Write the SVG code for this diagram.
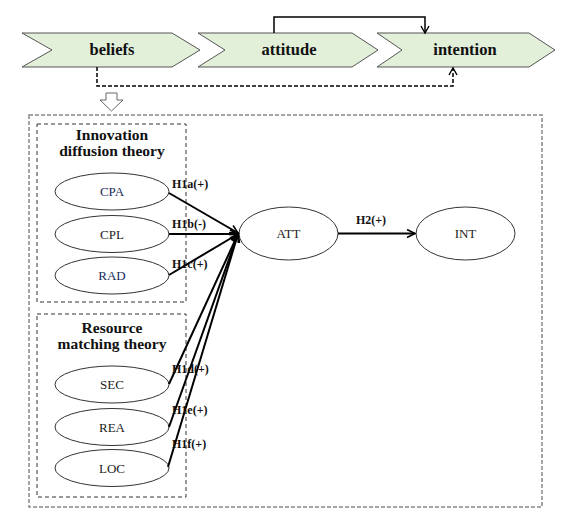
<svg xmlns="http://www.w3.org/2000/svg" width="576" height="525" viewBox="0 0 576 525">
<style>
.chev{fill:#e2efd9;stroke:#555;stroke-width:1}
.ctext{font-family:"Liberation Serif",serif;font-weight:bold;font-size:16.5px;fill:#111;text-anchor:middle}
.title{font-family:"Liberation Serif",serif;font-weight:bold;font-size:15.5px;fill:#111;text-anchor:middle}
.node{fill:#fff;stroke:#333;stroke-width:1}
.ntext{font-family:"Liberation Serif",serif;font-size:13px;fill:#222;text-anchor:middle}
.lab{font-family:"Liberation Serif",serif;font-weight:bold;font-size:12px;fill:#111}
.edge{fill:none;stroke:#000;stroke-width:2;marker-end:url(#arr)}
.box{fill:none;stroke:#333;stroke-width:1;stroke-dasharray:4 3}
</style>
<defs>
<marker id="arr" markerUnits="userSpaceOnUse" markerWidth="12" markerHeight="12" refX="9" refY="5" orient="auto">
<path d="M1,1 L9,5 L1,9" fill="none" stroke="#000" stroke-width="1.6"/>
</marker>
<marker id="arr2" markerUnits="userSpaceOnUse" markerWidth="12" markerHeight="12" refX="9" refY="5" orient="auto">
<path d="M2,1 L9,5 L2,9" fill="none" stroke="#000" stroke-width="1.4"/>
</marker>
</defs>
<rect width="576" height="525" fill="#fff"/>
<g id="beliefs">
<polygon class="chev" points="22,33 172,33 200,50 172,67 22,67 52,50"/>
<text class="ctext" x="112" y="55">beliefs</text>
</g>
<g id="attitude">
<polygon class="chev" points="198,33 352,33 378,50 352,67 198,67 225,50"/>
<text class="ctext" x="289" y="55">attitude</text>
</g>
<g id="intention">
<polygon class="chev" points="377,33 529,33 555,50 529,67 377,67 402,50"/>
<text class="ctext" x="465" y="55">intention</text>
</g>
<g id="hollow-arrow">
<polygon points="106,93 117,93 117,100 123,100 111.5,111 100,100 106,100" fill="#fff" stroke="#666" stroke-width="1"/>
</g>
<rect id="outer" x="29" y="115" width="513" height="392" fill="none" stroke="#888" stroke-width="1.5" stroke-dasharray="4 2"/>
<g id="idt">
<rect class="box" x="37" y="124" width="149" height="178"/>
<text class="title" x="112" y="140">Innovation</text>
<text class="title" x="112" y="156">diffusion theory</text>
</g>
<g id="rmt">
<rect class="box" x="37" y="314" width="149" height="183"/>
<text class="title" x="112" y="333">Resource</text>
<text class="title" x="112" y="349">matching theory</text>
</g>
<g id="CPA"><ellipse class="node" cx="112" cy="191.5" rx="57" ry="18.5"/><text class="ntext" x="112" y="196" style="fill:#1c2a5a">CPA</text></g>
<g id="CPL"><ellipse class="node" cx="112" cy="234" rx="57" ry="18.5"/><text class="ntext" x="112" y="239">CPL</text></g>
<g id="RAD"><ellipse class="node" cx="112" cy="275.5" rx="57" ry="18.5"/><text class="ntext" x="112" y="280" style="fill:#1c2a5a">RAD</text></g>
<g id="SEC"><ellipse class="node" cx="112" cy="384.5" rx="57" ry="18.5"/><text class="ntext" x="112" y="389">SEC</text></g>
<g id="REA"><ellipse class="node" cx="112" cy="427" rx="57" ry="18.5"/><text class="ntext" x="112" y="432">REA</text></g>
<g id="LOC"><ellipse class="node" cx="112" cy="468" rx="57" ry="18.5"/><text class="ntext" x="112" y="473">LOC</text></g>
<g id="ATT"><ellipse class="node" cx="288.5" cy="233.5" rx="49.5" ry="26.5"/><text class="ntext" x="288.5" y="238">ATT</text></g>
<g id="INT"><ellipse class="node" cx="465.5" cy="233.5" rx="49.5" ry="26.5"/><text class="ntext" x="465.5" y="238">INT</text></g>
<g id="connectors">
<polyline points="274,33 274,17 425,17 425,33" fill="none" stroke="#000" stroke-width="1.5" marker-end="url(#arr2)"/>
<polyline points="97,67 97,86 453,86 453,68" fill="none" stroke="#000" stroke-width="1.5" stroke-dasharray="4 2" marker-end="url(#arr2)"/>
<line class="edge" x1="169" y1="193" x2="238" y2="233"/>
<line class="edge" x1="169" y1="234" x2="238" y2="234"/>
<line class="edge" x1="169" y1="275" x2="238" y2="234"/>
<line class="edge" x1="169" y1="384" x2="238" y2="234"/>
<line class="edge" x1="169" y1="427" x2="238" y2="234"/>
<line class="edge" x1="168" y1="467" x2="238" y2="234"/>
<line class="edge" x1="338" y1="233.5" x2="415" y2="233.5"/>
<text class="lab" x="172" y="188">H1a(+)</text>
<text class="lab" x="172" y="228">H1b(-)</text>
<text class="lab" x="172" y="268">H1c(+)</text>
<text class="lab" x="172" y="373">H1d(+)</text>
<text class="lab" x="172" y="414">H1e(+)</text>
<text class="lab" x="172" y="448">H1f(+)</text>
<text class="lab" x="371" y="224" text-anchor="middle">H2(+)</text>
</g>
</svg>
